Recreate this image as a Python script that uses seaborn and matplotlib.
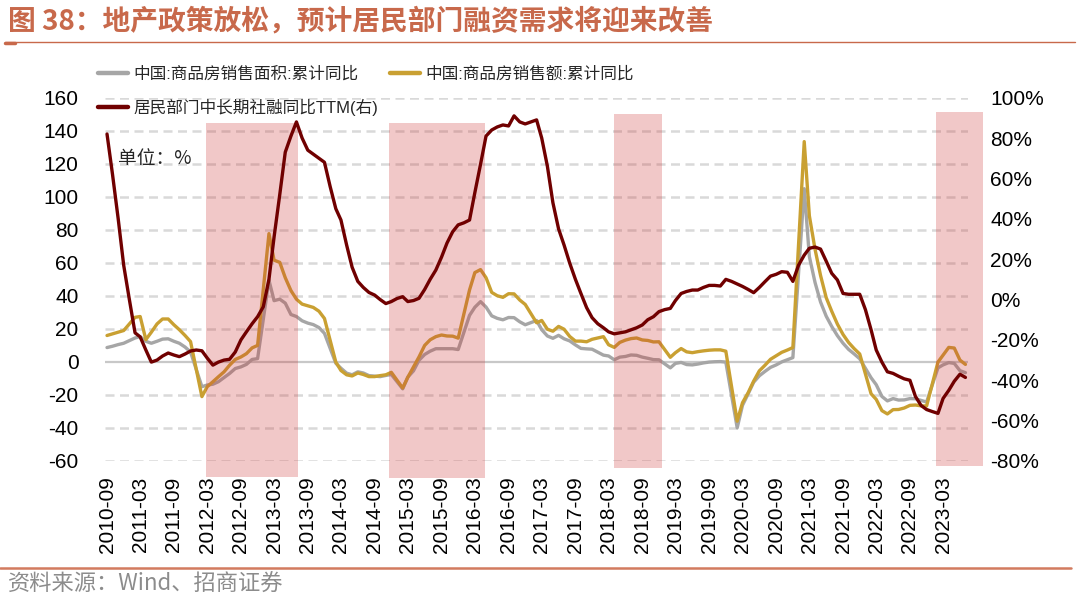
import numpy as np
import pandas as pd
import matplotlib
matplotlib.use("Agg")
import matplotlib.pyplot as plt
import seaborn as sns
from matplotlib.lines import Line2D

sns.set_theme(style="white")
plt.rcParams["font.family"] = ["Liberation Sans", "Noto Sans CJK SC"]
plt.rcParams["axes.unicode_minus"] = False

# ---------------- data ----------------
months_all = pd.date_range("2010-09-01", "2023-07-01", freq="MS")
sales_months = months_all[months_all.month != 1]   # Jan-Feb reported together

# 中国:商品房销售面积:累计同比 (%)  (Feb..Dec per year)
area_yoy = [
    8.7, 9.5, 10.5, 11.3,                                              # 2010 Sep-Dec
    14.5, 15.3, 12.5, 11.3, 12.5, 13.8, 14.0, 12.5, 11.3, 9.0, 6.0,     # 2011
    -15.0, -14.0, -13.5, -12.0, -9.5, -7.0, -4.0, -3.0, -1.5, 1.5, 2.0,  # 2012
    49.5, 37.1, 38.0, 35.6, 28.7, 27.5, 24.9, 23.5, 22.6, 20.8, 17.3,   # 2013
    -0.8, -3.8, -6.8, -7.8, -6.0, -6.7, -8.3, -8.6, -8.9, -8.2, -7.6,   # 2014
    -16.3, -9.2, -5.4, 1.0, 4.5, 6.5, 8.0, 8.0, 8.0, 8.0, 7.5,          # 2015
    28.2, 33.1, 36.5, 33.2, 27.9, 26.4, 25.5, 26.9, 26.8, 24.3, 22.5,   # 2016
    25.1, 19.5, 15.7, 14.3, 16.1, 14.0, 12.7, 10.3, 8.2, 7.9, 7.7,      # 2017
    4.1, 3.6, 1.3, 2.9, 3.3, 4.2, 4.0, 2.9, 2.2, 1.4, 1.3,              # 2018
    -3.6, -0.9, -0.3, -1.6, -1.8, -1.3, -0.6, -0.1, 0.1, 0.2, -0.1,     # 2019
    -39.9, -26.3, -19.3, -12.3, -8.4, -5.8, -3.3, -1.8, 0.0, 1.3, 2.6,  # 2020
    104.9, 63.8, 48.1, 36.3, 27.7, 21.5, 15.9, 11.3, 7.6, 4.8, 1.9,     # 2021
    -9.6, -13.8, -20.9, -23.6, -22.2, -23.1, -23.0, -22.2, -22.3, -23.3, -24.3,  # 2022
    -3.6, -1.8, -0.4, -0.9, -5.3, -6.5,                                 # 2023 Feb-Jul
]

# 中国:商品房销售额:累计同比 (%)
amount_yoy = [
    16.0, 17.0, 18.0, 19.0,
    27.0, 27.5, 13.5, 18.0, 23.0, 26.0, 26.0, 22.5, 19.5, 16.0, 12.3,
    -21.0, -15.0, -12.0, -9.0, -6.0, -2.0, 1.5, 3.0, 5.0, 8.5, 10.0,
    77.7, 61.6, 60.3, 51.0, 43.2, 38.0, 35.0, 34.0, 33.0, 30.7, 26.3,
    -0.1, -5.2, -7.8, -8.5, -6.7, -7.6, -8.9, -8.9, -8.3, -7.8, -6.3,
    -15.8, -9.3, -3.1, 3.0, 10.0, 13.4, 15.3, 16.3, 15.7, 15.6, 14.4,
    43.6, 54.1, 55.9, 51.0, 42.1, 40.1, 39.1, 41.3, 41.2, 37.5, 34.8,
    23.7, 25.1, 19.8, 18.6, 21.5, 19.8, 15.4, 12.6, 12.6, 12.2, 13.7,
    15.3, 10.4, 8.8, 11.8, 13.2, 14.1, 14.5, 13.3, 13.0, 12.1, 12.2,
    2.8, 5.6, 8.1, 6.1, 5.6, 6.2, 6.7, 7.1, 7.3, 7.3, 6.5,
    -35.9, -24.7, -18.6, -11.6, -5.4, -2.1, 1.6, 3.7, 5.8, 7.2, 8.7,
    133.4, 88.5, 68.2, 52.4, 38.9, 30.7, 22.9, 16.6, 11.8, 8.0, 4.8,
    -19.3, -22.7, -29.5, -31.5, -28.9, -28.8, -27.9, -26.3, -26.1, -26.6, -26.7,
    -0.1, 4.1, 8.8, 8.4, 1.1, -1.5,
]

# 居民部门中长期社融同比TTM (%), monthly, right axis
credit_ttm = [
    82, 62, 40, 17,
    0, -16.5, -18.5, -25, -31, -30, -28, -26.5, -27.5, -28.3, -27, -25.5,
    -25, -25.4, -29, -32.5, -31, -30, -29.6, -26, -20, -16, -12, -8.5,
    -3.6, 10, 31, 52, 73, 81, 88, 80, 74, 72, 70, 68,
    56, 45, 39.4, 27, 16, 9, 6, 3.5, 2.2, 0, -2, -1,
    0.5, 1.4, -1, -0.5, 0.6, 5, 10, 14.6, 21, 28, 33.6, 37,
    38, 39.4, 53, 67, 81, 84, 85.5, 86.5, 86, 91, 88, 87,
    88, 89, 80, 66, 48, 35, 27, 18, 10, 3, -4, -9,
    -12, -14, -16, -17, -16.5, -16, -15, -14, -12.6, -10, -8.5, -6,
    -5, -4.4, -0.5, 3, 4, 4.7, 4.7, 6, 7, 7, 6.7, 10,
    9, 7.7, 6.5, 5, 3.4, 6, 8.8, 11.6, 12.5, 13.8, 13.5, 9,
    17, 22, 25.4, 26, 25, 19, 13, 9.7, 3, 2.6, 2.6, 2.6,
    -5, -15, -25, -31, -35.8, -36.6, -38, -39.3, -40, -48, -52.5, -54.5,
    -55.5, -56.4, -49, -45, -40.5, -37, -38.6,
]

# easing periods (shaded)
shade_periods = [("2012-02-23", "2013-07-09"), ("2014-11-19", "2016-04-25"),
                 ("2018-04-01", "2018-12-19"), ("2023-01-19", "2023-10-07")]
shade_yspan = [(-0.044, 0.930), (-0.047, 0.930), (-0.019, 0.955), (-0.014, 0.961)]

tick_dates = pd.date_range("2010-09-01", "2023-03-01", freq="6MS")
tick_labels = [d.strftime("%Y-%m") for d in tick_dates]
left_ticks = list(range(-60, 161, 20))
right_ticks = list(range(-80, 101, 20))

lab_area = "中国:商品房销售面积:累计同比"
lab_amount = "中国:商品房销售额:累计同比"
lab_credit = "居民部门中长期社融同比TTM(右)"

C_GRAY = "#A6A6A6"
C_GOLD = "#C9A032"
C_RED = "#700000"
C_TITLE = "#C8694B"

# ---------------- figure ----------------
W, H = 1080, 603
fig = plt.figure(figsize=(W / 100, H / 100), dpi=100)
ax = fig.add_axes([105 / W, 1 - 461 / H, (968 - 105) / W, (461 - 97.7) / H])
ax2 = ax.twinx()

df_sales = pd.DataFrame({"date": sales_months, "area": area_yoy, "amount": amount_yoy})
df_credit = pd.DataFrame({"date": months_all, "credit": credit_ttm})

sns.lineplot(data=df_sales, x="date", y="area", ax=ax, color=C_GRAY, lw=2.4, legend=False, zorder=2)
sns.lineplot(data=df_sales, x="date", y="amount", ax=ax, color=C_GOLD, lw=2.4, legend=False, zorder=2)
sns.lineplot(data=df_credit, x="date", y="credit", ax=ax2, color=C_RED, lw=2.4, legend=False, zorder=2)

ax.set_ylim(-60, 160)
ax2.set_ylim(-80, 100)
ax.set_xlim(months_all[0] - pd.Timedelta(days=11), months_all[-1] + pd.Timedelta(days=14))

ax.set_yticks(left_ticks)
ax.set_yticklabels([str(v) for v in left_ticks])
ax2.set_yticks(right_ticks)
ax2.set_yticklabels([f"{v}%" for v in right_ticks])
ax.set_xticks(tick_dates)
ax.set_xticklabels(tick_labels, rotation=90)

ax.grid(False)
ax2.grid(False)
for v in left_ticks:
    if v != 0:
        ax.axhline(v, color="#D9D9D9", lw=1.8, ls=(0, (3.6, 2.2)), zorder=0.5)
ax.axhline(0, color="#C8C8C8", lw=1.6, zorder=0.6)

for a in (ax, ax2):
    for s in a.spines.values():
        s.set_visible(False)
    a.set_xlabel("")
    a.set_ylabel("")

ax.tick_params(axis="y", length=0, pad=19, labelsize=15, labelcolor="black")
ax2.tick_params(axis="y", length=0, pad=16, labelsize=15, labelcolor="black")
ax.tick_params(axis="x", length=0, pad=11, labelsize=15, labelcolor="black")

for (s, e), (y0, y1) in zip(shade_periods, shade_yspan):
    r = ax.axvspan(pd.Timestamp(s), pd.Timestamp(e), ymin=y0, ymax=y1,
                   color="#CD3737", alpha=0.27, lw=0, zorder=3)
    r.set_clip_on(False)

ax.text(0.015, 0.834, "单位：%", transform=ax.transAxes, fontsize=13.5,
        va="center", ha="left", family=["Noto Sans CJK SC"])

# legends
h_gray = Line2D([], [], color=C_GRAY, lw=3.2)
h_gold = Line2D([], [], color=C_GOLD, lw=3.2)
h_red = Line2D([], [], color=C_RED, lw=3.2)
common = dict(loc="upper left", frameon=False, fontsize=12, handlelength=1.8,
              handletextpad=0.3, labelspacing=1.05, borderpad=0, borderaxespad=0)
fig.legend([h_gray, h_red], [lab_area, lab_credit], bbox_to_anchor=(98 / W, 1 - 66 / H), **common)
fig.legend([h_gold], [lab_amount], bbox_to_anchor=(390 / W, 1 - 66 / H), **common)

# title, rules, source
fig.text(8 / W, 1 - 21 / H, "图 38：地产政策放松，预计居民部门融资需求将迎来改善",
         fontsize=20, color=C_TITLE, weight="bold", va="center", ha="left",
         family=["Noto Sans CJK SC", "Liberation Sans"])
fig.add_artist(Line2D([5 / W, 1075 / W], [1 - 42 / H, 1 - 42 / H], color=C_TITLE, lw=1.0))
fig.add_artist(Line2D([5 / W, 15 / W], [1 - 42.5 / H, 1 - 42.5 / H], color=C_TITLE, lw=2.5))
fig.add_artist(Line2D([0, 1071 / W], [1 - 568 / H, 1 - 568 / H], color="#D27B5F", lw=1.8))
fig.text(8 / W, 1 - 584 / H, "资料来源：Wind、招商证券", fontsize=16, color="#8C8C8C",
         va="center", ha="left", family=["Noto Sans CJK SC", "Liberation Sans"])

fig.savefig("out.png", dpi=100)
